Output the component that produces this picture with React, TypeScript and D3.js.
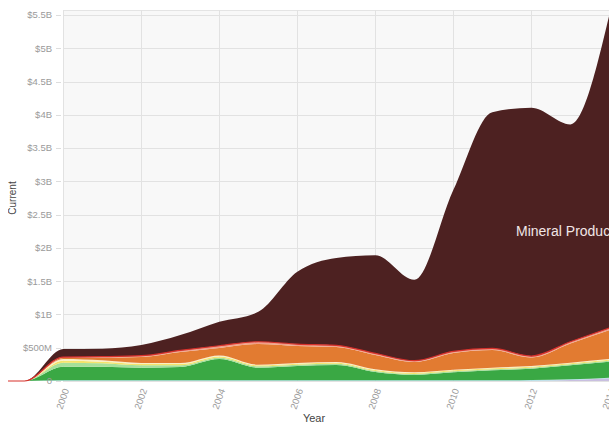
import * as d3 from 'd3';
import React, { useRef, useEffect } from 'react';

// years shown on the x axis (first two are empty)
const years = [1998, 1999, 2000, 2001, 2002, 2003, 2004, 2005, 2006, 2007, 2008, 2009, 2010, 2011, 2012, 2013, 2014];

// series values in millions of USD, bottom of the stack first
const lavender = [0, 0, 0, 0, 0, 0, 0, 0, 0, 0, 0, 0, 0, 0, 5, 15, 40];
const cyan = [0, 0, 10, 10, 10, 10, 10, 10, 10, 10, 10, 10, 10, 10, 10, 10, 10];
const green = [0, 0, 205, 205, 190, 200, 320, 190, 215, 230, 125, 80, 120, 150, 170, 210, 240];
const lightGreen = [0, 0, 60, 50, 35, 25, 20, 20, 20, 20, 15, 15, 15, 15, 15, 15, 15];
const yellow = [0, 0, 30, 25, 20, 20, 20, 15, 15, 15, 15, 15, 15, 15, 15, 15, 15];
const cream = [0, 0, 25, 20, 15, 15, 15, 10, 10, 10, 10, 10, 10, 10, 10, 10, 10];
const orange = [0, 0, 15, 40, 90, 165, 110, 310, 255, 225, 215, 155, 250, 265, 130, 290, 435];
const salmon = [0, 0, 10, 10, 15, 20, 30, 30, 25, 20, 20, 15, 20, 20, 15, 20, 25];
const red = [0, 0, 5, 5, 5, 5, 5, 5, 5, 5, 5, 5, 5, 5, 5, 5, 5];
const mineral = [0, 0, 120, 120, 160, 230, 360, 450, 1085, 1315, 1475, 1215, 2425, 3550, 3730, 3265, 4705];

const seriesNames = ['Stone and Glass', 'Plastics', 'Vegetable Products', 'Animal Products', 'Foodstuffs', 'Textiles', 'Metals', 'Chemical Products', 'Machines', 'Mineral Products'];
const seriesValues = [lavender, cyan, green, lightGreen, yellow, cream, orange, salmon, red, mineral];
const seriesColors = ['#c9bfe0', '#a8e0e6', '#3aa844', '#a5e09a', '#f3e46c', '#fbefc4', '#e27b31', '#f0a08a', '#d8312b', '#4d2121'];

const yTicks = [0, 0.5e9, 1e9, 1.5e9, 2e9, 2.5e9, 3e9, 3.5e9, 4e9, 4.5e9, 5e9, 5.5e9];
const xTicks = [2000, 2002, 2004, 2006, 2008, 2010, 2012, 2014];

const fmt = (v: number) => v === 0 ? '0' : v >= 1e9 ? `$${v / 1e9}B` : `$${v / 1e6}M`;

const App: React.FC = () => {
  const ref = useRef<SVGSVGElement>(null);

  useEffect(() => {
    if (!ref.current) return;
    const svg = d3.select(ref.current);
    svg.selectAll('*').remove();

    // work in page coordinates, the svg sits at x=8
    const g = svg.append('g').attr('transform', 'translate(-8,0)');
    const font = 'Arial, "Liberation Sans", sans-serif';

    const x = d3.scaleLinear().domain([2000, 2014]).range([63.3, 609.3]);
    const y = d3.scaleLinear().domain([0, 5.5e9]).range([381, 15]);

    const table = years.map((yr, i) => {
      const row: { [k: string]: number } = { year: yr };
      seriesNames.forEach((n, j) => { row[n] = seriesValues[j][i] * 1e6; });
      return row;
    });
    const stacked = d3.stack<{ [k: string]: number }>().keys(seriesNames)(table);

    // plot background and grid
    g.append('rect')
      .attr('x', 63).attr('y', 10).attr('width', 560).attr('height', 371)
      .attr('fill', '#f8f8f8');
    g.append('line')
      .attr('x1', 63).attr('x2', 620).attr('y1', 10.5).attr('y2', 10.5)
      .attr('stroke', '#e4e4e4');

    g.selectAll('.hgrid')
      .data(yTicks)
      .enter()
      .append('line')
      .attr('x1', 63).attr('x2', 620)
      .attr('y1', d => Math.round(y(d)) + 0.5)
      .attr('y2', d => Math.round(y(d)) + 0.5)
      .attr('stroke', '#e2e2e2');

    g.selectAll('.vgrid')
      .data(xTicks)
      .enter()
      .append('line')
      .attr('x1', d => Math.round(x(d)) + 0.5)
      .attr('x2', d => Math.round(x(d)) + 0.5)
      .attr('y1', 10).attr('y2', 381)
      .attr('stroke', '#e2e2e2');

    // stacked areas
    const area = d3.area<d3.SeriesPoint<{ [k: string]: number }>>()
      .x(d => x(d.data.year))
      .y0(d => y(d[0]))
      .y1(d => y(d[1]))
      .curve(d3.curveMonotoneX);

    g.selectAll('.layer')
      .data(stacked)
      .enter()
      .append('path')
      .attr('d', d => area(d) as string)
      .attr('fill', (_, i) => seriesColors[i]);

    // red series outline runs along the zero line on the left
    const redLayer = stacked[seriesNames.length - 2];
    const line = d3.line<d3.SeriesPoint<{ [k: string]: number }>>()
      .x(d => x(d.data.year))
      .y(d => y(d[1]))
      .curve(d3.curveMonotoneX);
    g.append('path')
      .attr('d', line(redLayer) as string)
      .attr('fill', 'none')
      .attr('stroke', '#d8312b')
      .attr('stroke-width', 1.2);

    // y axis
    g.selectAll('.ytick')
      .data(yTicks)
      .enter()
      .append('line')
      .attr('x1', 56).attr('x2', 61)
      .attr('y1', d => Math.round(y(d)) + 0.5)
      .attr('y2', d => Math.round(y(d)) + 0.5)
      .attr('stroke', '#ddd');

    g.selectAll('.ylabel')
      .data(yTicks)
      .enter()
      .append('text')
      .attr('x', 52)
      .attr('y', d => y(d))
      .attr('dy', '0.35em')
      .attr('text-anchor', 'end')
      .attr('font-family', font)
      .attr('font-size', 9.5)
      .attr('fill', '#9a9a9a')
      .text(d => fmt(d));

    // x axis
    g.selectAll('.xlabel')
      .data(xTicks)
      .enter()
      .append('text')
      .attr('transform', d => `translate(${x(d) + 3},${389}) rotate(-70)`)
      .attr('text-anchor', 'end')
      .attr('dy', '0.35em')
      .attr('font-family', font)
      .attr('font-size', 9.5)
      .attr('fill', '#9a9a9a')
      .text(d => String(d));

    g.append('text')
      .attr('x', 314).attr('y', 422)
      .attr('text-anchor', 'middle')
      .attr('font-family', font)
      .attr('font-size', 11)
      .attr('fill', '#444')
      .text('Year');

    g.append('text')
      .attr('transform', 'translate(16,198) rotate(-90)')
      .attr('text-anchor', 'middle')
      .attr('font-family', font)
      .attr('font-size', 10)
      .attr('fill', '#444')
      .text('Current');

    // series label inside the biggest area
    g.append('text')
      .attr('x', 516).attr('y', 236)
      .attr('font-family', font)
      .attr('font-size', 14)
      .attr('fill', '#f1e6e6')
      .text('Mineral Products');
  }, []);

  return (
    <svg ref={ref} width={601} height={425}
      style={{ position: 'absolute', left: 8, top: 0, display: 'block' }} />
  );
};

export default App;
